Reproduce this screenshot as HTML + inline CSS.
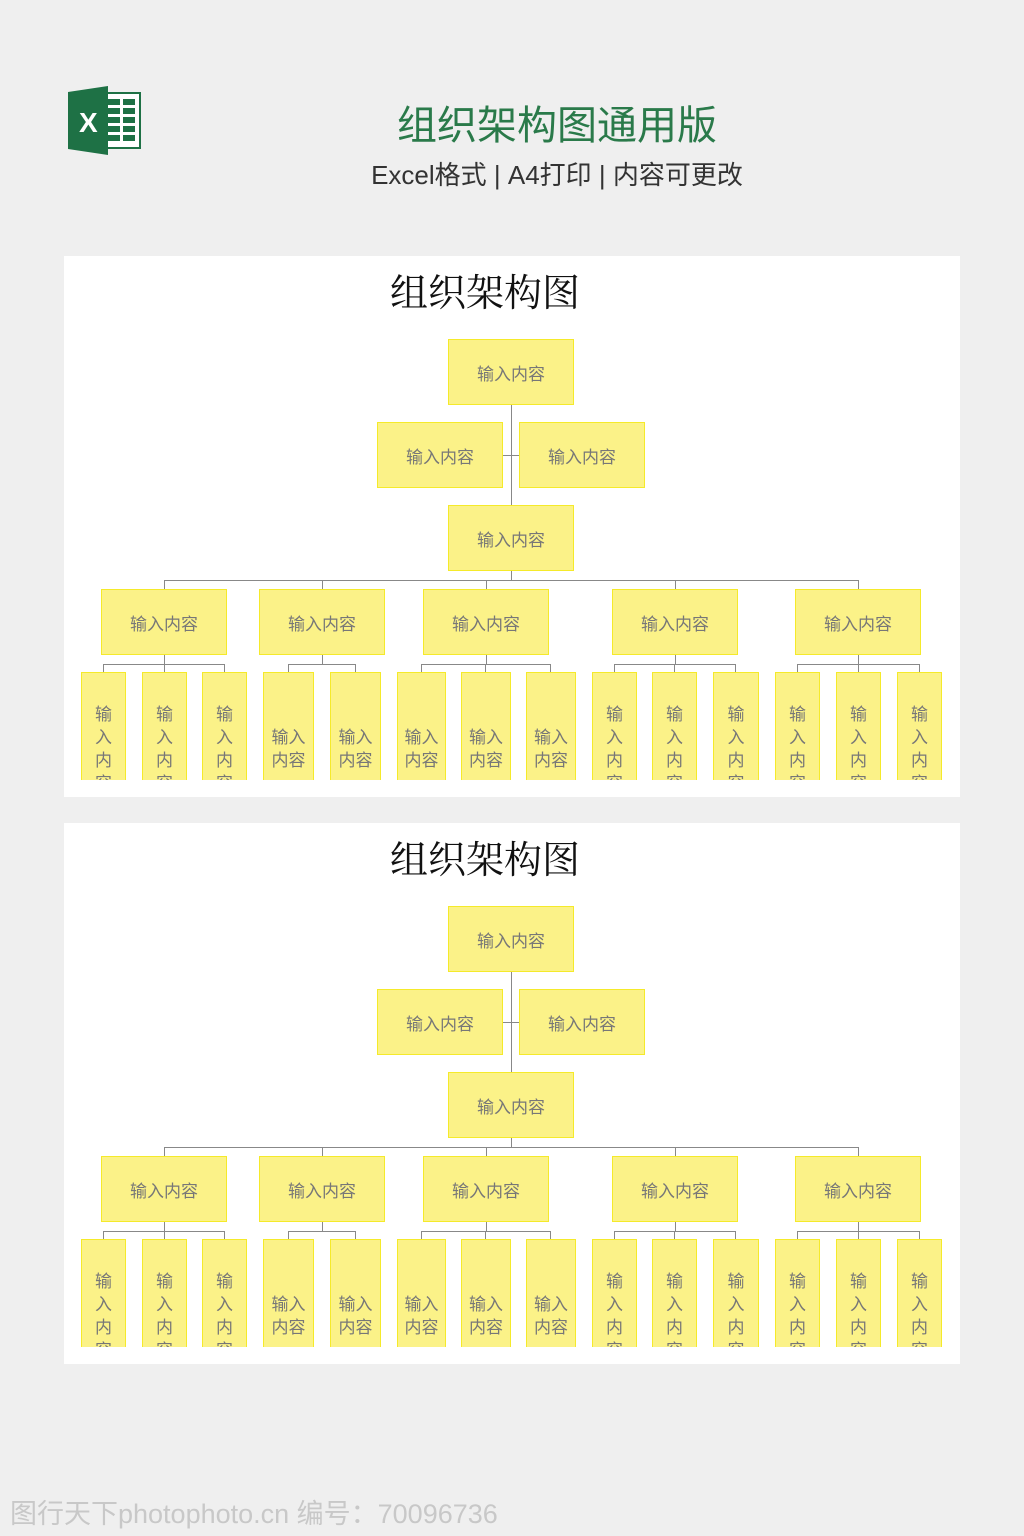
<!DOCTYPE html>
<html><head><meta charset="utf-8"><style>
body{margin:0;width:1024px;height:1536px;background:#efefef;position:relative;overflow:hidden;font-family:"Liberation Sans","Noto Sans CJK SC",sans-serif}
.a{position:absolute}
.panel{position:absolute;left:64px;width:896px;height:541px;background:#fff;overflow:hidden}
.t{position:absolute;left:0;width:842px;text-align:center;top:6px;font-family:"Liberation Serif","Noto Serif CJK SC",serif;font-size:38px;color:#111}
.b{position:absolute;width:124px;height:64px;background:#fbf288;border:1px solid #f5ea2a;display:flex;align-items:center;justify-content:center;color:#777;font-size:17px}
.l{position:absolute;top:416px;height:120px;background:#fbf288;border:1px solid #f5ea2a;color:#777;font-size:17px;text-align:center;line-height:23px;box-sizing:border-box;padding-top:30px;overflow:hidden}
.l.w{padding-top:53px}
.h{position:absolute;height:1px;background:#888}
.v{position:absolute;width:1px;background:#888}
.cover{position:absolute;left:0;top:524px;width:896px;height:20px;background:#fff}
</style></head><body>
<svg class="a" style="left:68px;top:86px" width="74" height="70" viewBox="0 0 74 70">
<rect x="30" y="7" width="42" height="55" fill="#fff" stroke="#1e7145" stroke-width="2"/>
<g fill="#1e7145"><rect x="40" y="13" width="12" height="6"/><rect x="55" y="13" width="12" height="6"/><rect x="40" y="22" width="12" height="6"/><rect x="55" y="22" width="12" height="6"/><rect x="40" y="31" width="12" height="6"/><rect x="55" y="31" width="12" height="6"/><rect x="40" y="40" width="12" height="6"/><rect x="55" y="40" width="12" height="6"/><rect x="40" y="49" width="12" height="6"/><rect x="55" y="49" width="12" height="6"/></g>
<polygon points="0,6 40,0 40,69 0,63" fill="#1e7145"/>
<text x="11" y="46" fill="#fff" font-size="28" font-family="Liberation Sans" font-weight="bold">X</text>
</svg>
<div class="a" style="left:300px;width:514px;text-align:center;top:93px;font-size:40px;color:#2a7a4a">组织架构图通用版</div>
<div class="a" style="left:300px;width:514px;text-align:center;top:155px;font-size:26px;color:#333">Excel格式 | A4打印 | 内容可更改</div>

<div class="panel" style="top:256px">
<div class="t">组织架构图</div>
<div class="v" style="left:447px;top:149px;height:175px"></div>
<div class="h" style="left:439px;top:199px;width:16px"></div>
<div class="h" style="left:100px;top:324px;width:695px"></div>
<div class="b" style="left:384px;top:83px">输入内容</div>
<div class="b" style="left:313px;top:166px">输入内容</div>
<div class="b" style="left:455px;top:166px">输入内容</div>
<div class="b" style="left:384px;top:249px">输入内容</div>
<div class="v" style="left:100px;top:324px;height:9px"></div><div class="v" style="left:258px;top:324px;height:9px"></div><div class="v" style="left:422px;top:324px;height:9px"></div><div class="v" style="left:611px;top:324px;height:9px"></div><div class="v" style="left:794px;top:324px;height:9px"></div>
<div class="b" style="left:37px;top:333px">输入内容</div><div class="b" style="left:195px;top:333px">输入内容</div><div class="b" style="left:359px;top:333px">输入内容</div><div class="b" style="left:548px;top:333px">输入内容</div><div class="b" style="left:731px;top:333px">输入内容</div>
<div class="v" style="left:100px;top:399px;height:9px"></div><div class="v" style="left:258px;top:399px;height:9px"></div><div class="v" style="left:422px;top:399px;height:9px"></div><div class="v" style="left:611px;top:399px;height:9px"></div><div class="v" style="left:794px;top:399px;height:9px"></div>
<div class="h" style="left:39px;top:408px;width:122px"></div><div class="h" style="left:224px;top:408px;width:68px"></div><div class="h" style="left:357px;top:408px;width:130px"></div><div class="h" style="left:550px;top:408px;width:122px"></div><div class="h" style="left:733px;top:408px;width:123px"></div>
<div class="v" style="left:39px;top:408px;height:8px"></div><div class="v" style="left:100px;top:408px;height:8px"></div><div class="v" style="left:160px;top:408px;height:8px"></div><div class="v" style="left:224px;top:408px;height:8px"></div><div class="v" style="left:291px;top:408px;height:8px"></div><div class="v" style="left:357px;top:408px;height:8px"></div><div class="v" style="left:421px;top:408px;height:8px"></div><div class="v" style="left:486px;top:408px;height:8px"></div><div class="v" style="left:550px;top:408px;height:8px"></div><div class="v" style="left:610px;top:408px;height:8px"></div><div class="v" style="left:671px;top:408px;height:8px"></div><div class="v" style="left:733px;top:408px;height:8px"></div><div class="v" style="left:794px;top:408px;height:8px"></div><div class="v" style="left:855px;top:408px;height:8px"></div>
<div class="l" style="left:17px;width:45px">输<br>入<br>内<br>容</div><div class="l" style="left:78px;width:45px">输<br>入<br>内<br>容</div><div class="l" style="left:138px;width:45px">输<br>入<br>内<br>容</div>
<div class="l w" style="left:199px;width:51px">输入<br>内容</div><div class="l w" style="left:266px;width:51px">输入<br>内容</div>
<div class="l w" style="left:333px;width:49px">输入<br>内容</div><div class="l w" style="left:397px;width:50px">输入<br>内容</div><div class="l w" style="left:462px;width:50px">输入<br>内容</div>
<div class="l" style="left:528px;width:45px">输<br>入<br>内<br>容</div><div class="l" style="left:588px;width:45px">输<br>入<br>内<br>容</div><div class="l" style="left:649px;width:46px">输<br>入<br>内<br>容</div>
<div class="l" style="left:711px;width:45px">输<br>入<br>内<br>容</div><div class="l" style="left:772px;width:45px">输<br>入<br>内<br>容</div><div class="l" style="left:833px;width:45px">输<br>入<br>内<br>容</div>
<div class="cover"></div>
</div>

<div class="panel" style="top:823px">
<div class="t">组织架构图</div>
<div class="v" style="left:447px;top:149px;height:175px"></div>
<div class="h" style="left:439px;top:199px;width:16px"></div>
<div class="h" style="left:100px;top:324px;width:695px"></div>
<div class="b" style="left:384px;top:83px">输入内容</div>
<div class="b" style="left:313px;top:166px">输入内容</div>
<div class="b" style="left:455px;top:166px">输入内容</div>
<div class="b" style="left:384px;top:249px">输入内容</div>
<div class="v" style="left:100px;top:324px;height:9px"></div><div class="v" style="left:258px;top:324px;height:9px"></div><div class="v" style="left:422px;top:324px;height:9px"></div><div class="v" style="left:611px;top:324px;height:9px"></div><div class="v" style="left:794px;top:324px;height:9px"></div>
<div class="b" style="left:37px;top:333px">输入内容</div><div class="b" style="left:195px;top:333px">输入内容</div><div class="b" style="left:359px;top:333px">输入内容</div><div class="b" style="left:548px;top:333px">输入内容</div><div class="b" style="left:731px;top:333px">输入内容</div>
<div class="v" style="left:100px;top:399px;height:9px"></div><div class="v" style="left:258px;top:399px;height:9px"></div><div class="v" style="left:422px;top:399px;height:9px"></div><div class="v" style="left:611px;top:399px;height:9px"></div><div class="v" style="left:794px;top:399px;height:9px"></div>
<div class="h" style="left:39px;top:408px;width:122px"></div><div class="h" style="left:224px;top:408px;width:68px"></div><div class="h" style="left:357px;top:408px;width:130px"></div><div class="h" style="left:550px;top:408px;width:122px"></div><div class="h" style="left:733px;top:408px;width:123px"></div>
<div class="v" style="left:39px;top:408px;height:8px"></div><div class="v" style="left:100px;top:408px;height:8px"></div><div class="v" style="left:160px;top:408px;height:8px"></div><div class="v" style="left:224px;top:408px;height:8px"></div><div class="v" style="left:291px;top:408px;height:8px"></div><div class="v" style="left:357px;top:408px;height:8px"></div><div class="v" style="left:421px;top:408px;height:8px"></div><div class="v" style="left:486px;top:408px;height:8px"></div><div class="v" style="left:550px;top:408px;height:8px"></div><div class="v" style="left:610px;top:408px;height:8px"></div><div class="v" style="left:671px;top:408px;height:8px"></div><div class="v" style="left:733px;top:408px;height:8px"></div><div class="v" style="left:794px;top:408px;height:8px"></div><div class="v" style="left:855px;top:408px;height:8px"></div>
<div class="l" style="left:17px;width:45px">输<br>入<br>内<br>容</div><div class="l" style="left:78px;width:45px">输<br>入<br>内<br>容</div><div class="l" style="left:138px;width:45px">输<br>入<br>内<br>容</div>
<div class="l w" style="left:199px;width:51px">输入<br>内容</div><div class="l w" style="left:266px;width:51px">输入<br>内容</div>
<div class="l w" style="left:333px;width:49px">输入<br>内容</div><div class="l w" style="left:397px;width:50px">输入<br>内容</div><div class="l w" style="left:462px;width:50px">输入<br>内容</div>
<div class="l" style="left:528px;width:45px">输<br>入<br>内<br>容</div><div class="l" style="left:588px;width:45px">输<br>入<br>内<br>容</div><div class="l" style="left:649px;width:46px">输<br>入<br>内<br>容</div>
<div class="l" style="left:711px;width:45px">输<br>入<br>内<br>容</div><div class="l" style="left:772px;width:45px">输<br>入<br>内<br>容</div><div class="l" style="left:833px;width:45px">输<br>入<br>内<br>容</div>
<div class="cover"></div>
</div>

<div class="a" style="left:10px;top:1492px;font-size:27px;color:#c8c8c8">图行天下photophoto.cn 编号：70096736</div>
</body></html>
